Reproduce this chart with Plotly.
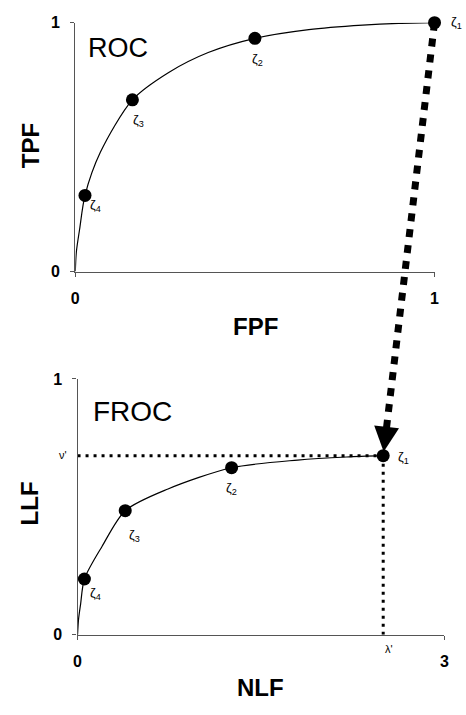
import plotly.graph_objects as go

# ---------------- data ----------------
# ROC operating points (zeta1..zeta4)
roc_fpf = [1.0, 0.50, 0.159, 0.027]
roc_tpf = [1.0, 0.937, 0.69, 0.306]
# ROC curve
roc_curve_fpf = [0, 0.003, 0.012, 0.027, 0.07, 0.159, 0.26, 0.37, 0.50, 0.65, 0.80, 0.90, 1.0]
roc_curve_tpf = [0, 0.08, 0.17, 0.306, 0.48, 0.69, 0.80, 0.88, 0.937, 0.972, 0.99, 0.997, 1.0]

# FROC operating points (zeta1..zeta4)
froc_nlf = [2.5, 1.26, 0.39, 0.056]
froc_llf = [0.70, 0.653, 0.485, 0.218]
# FROC curve
froc_curve_nlf = [0, 0.008, 0.025, 0.056, 0.2, 0.39, 0.74, 1.26, 1.8, 2.2, 2.5]
froc_curve_llf = [0, 0.06, 0.12, 0.218, 0.345, 0.485, 0.57, 0.653, 0.683, 0.695, 0.70]

zeta_labels = ["ζ<sub>1</sub>", "ζ<sub>2</sub>", "ζ<sub>3</sub>", "ζ<sub>4</sub>"]
nu_prime = 0.70
lambda_prime = 2.5

x1_ticks = [0, 1]
y1_ticks = [0, 1]
x2_ticks = [0, 3]
y2_ticks = [0, 1]

# ---------------- layout geometry ----------------
W, H = 466, 715
x1_dom = [72.7 / W, 439 / W]
y1_dom = [1 - 270 / H, 1 - 15 / H]
x2_dom = [75 / W, 449 / W]
y2_dom = [1 - 642 / H, 1 - 380 / H]
x1_rng, y1_rng = [0, 1], [0, 1]
x2_rng, y2_rng = [0, 3], [0, 1]


def to_paper(v, dom, rng):
    return dom[0] + (v - rng[0]) / (rng[1] - rng[0]) * (dom[1] - dom[0])


FONT = "Liberation Sans, Arial, sans-serif"
AXCOL = "#555555"

fig = go.Figure()

# ROC curve + points
fig.add_trace(go.Scatter(x=roc_curve_fpf, y=roc_curve_tpf, mode="lines",
                         line=dict(color="black", width=1.2, shape="spline", smoothing=0.8),
                         xaxis="x", yaxis="y", hoverinfo="skip"))
fig.add_trace(go.Scatter(x=roc_fpf, y=roc_tpf, mode="markers",
                         marker=dict(color="black", size=13), cliponaxis=False,
                         xaxis="x", yaxis="y"))

# FROC dotted guide lines
fig.add_trace(go.Scatter(x=[0, lambda_prime], y=[nu_prime, nu_prime], mode="lines",
                         line=dict(color="black", width=3, dash="3px,5px"),
                         xaxis="x2", yaxis="y2", hoverinfo="skip"))
fig.add_trace(go.Scatter(x=[lambda_prime, lambda_prime], y=[nu_prime, 0], mode="lines",
                         line=dict(color="black", width=3, dash="3px,5px"),
                         xaxis="x2", yaxis="y2", hoverinfo="skip"))
# FROC curve + points
fig.add_trace(go.Scatter(x=froc_curve_nlf, y=froc_curve_llf, mode="lines",
                         line=dict(color="black", width=1.2, shape="spline", smoothing=0.8),
                         xaxis="x2", yaxis="y2", hoverinfo="skip"))
fig.add_trace(go.Scatter(x=froc_nlf, y=froc_llf, mode="markers",
                         marker=dict(color="black", size=13), cliponaxis=False,
                         xaxis="x2", yaxis="y2"))

# Thick dashed arrow shaft from ROC zeta1 to FROC zeta1 (overlay axes spanning the page)
ax_px = to_paper(roc_fpf[0], x1_dom, x1_rng)
ay_px = to_paper(roc_tpf[0], y1_dom, y1_rng)
bx_px = to_paper(froc_nlf[0], x2_dom, x2_rng)
by_px = to_paper(froc_llf[0], y2_dom, y2_rng)
fig.add_trace(go.Scatter(x=[ax_px, bx_px], y=[ay_px, by_px], mode="lines",
                         line=dict(color="black", width=7, dash="8px,8px"),
                         xaxis="x3", yaxis="y3", hoverinfo="skip"))

# arrow direction in pixels (from tip toward tail)
dxp = (ax_px - bx_px) * W
dyp = (ay_px - by_px) * H
L = (dxp ** 2 + dyp ** 2) ** 0.5
head_len = 32

annotations = []
annotations.append(dict(x=froc_nlf[0], y=froc_llf[0], xref="x2", yref="y2",
                        ax=dxp / L * head_len, ay=-dyp / L * head_len,
                        axref="pixel", ayref="pixel", text="", showarrow=True,
                        arrowhead=2, arrowsize=1, arrowwidth=5, arrowcolor="black",
                        standoff=4))

# zeta labels
top_off = [(22, 0), (3, -21), (6, -21), (11, -10)]
bot_off = [(20, -2), (0, -21), (9, -25), (11, -15)]
for i, lab in enumerate(zeta_labels):
    annotations.append(dict(x=roc_fpf[i], y=roc_tpf[i], xref="x", yref="y", text=lab,
                            showarrow=False, xshift=top_off[i][0], yshift=top_off[i][1],
                            font=dict(family=FONT, size=13, color="black")))
    annotations.append(dict(x=froc_nlf[i], y=froc_llf[i], xref="x2", yref="y2", text=lab,
                            showarrow=False, xshift=bot_off[i][0], yshift=bot_off[i][1],
                            font=dict(family=FONT, size=13, color="black")))

# nu' and lambda'
annotations.append(dict(x=0, y=nu_prime, xref="x2", yref="y2", text="ν'", showarrow=False,
                        xshift=-15, yshift=1, font=dict(family=FONT, size=11, color="black")))
annotations.append(dict(x=lambda_prime, y=0, xref="x2", yref="y2", text="λ'", showarrow=False,
                        xshift=6, yshift=-14, font=dict(family=FONT, size=11, color="black")))

# panel names
annotations.append(dict(x=0.12, y=0.90, xref="x", yref="y", text="ROC", showarrow=False,
                        font=dict(family=FONT, size=27, color="black")))
annotations.append(dict(x=0.45, y=0.874, xref="x2", yref="y2", text="FROC", showarrow=False,
                        font=dict(family=FONT, size=28, color="black")))

# axis titles
def title(text, px, py, angle=0):
    return dict(x=px / W, y=1 - py / H, xref="paper", yref="paper", text="<b>%s</b>" % text,
                showarrow=False, textangle=angle, xanchor="center", yanchor="middle",
                font=dict(family=FONT, size=24, color="black"))

annotations += [title("TPF", 27, 141, -90), title("FPF", 256, 326),
                title("LLF", 26, 507, -90), title("NLF", 262, 696)]

axis_common = dict(showgrid=False, zeroline=False, showline=True, linecolor=AXCOL, linewidth=1.2,
                   ticks="outside", ticklen=4, tickcolor=AXCOL, tickwidth=1,
                   tickfont=dict(family=FONT, size=16, color="black", weight="bold"),
                   fixedrange=True)

fig.update_layout(
    width=W, height=H, margin=dict(l=0, r=0, t=0, b=0),
    paper_bgcolor="white", plot_bgcolor="rgba(0,0,0,0)", showlegend=False,
    xaxis=dict(domain=x1_dom, range=x1_rng, anchor="y", tickvals=x1_ticks,
               ticklabelstandoff=8, **axis_common),
    yaxis=dict(domain=y1_dom, range=y1_rng, anchor="x", tickvals=y1_ticks,
               ticklabelstandoff=7, **axis_common),
    xaxis2=dict(domain=x2_dom, range=x2_rng, anchor="y2", tickvals=x2_ticks,
                ticklabelstandoff=8, **axis_common),
    yaxis2=dict(domain=y2_dom, range=y2_rng, anchor="x2", tickvals=y2_ticks,
                ticklabelstandoff=7, **axis_common),
    xaxis3=dict(domain=[0, 1], range=[0, 1], anchor="y3", visible=False, fixedrange=True),
    yaxis3=dict(domain=[0, 1], range=[0, 1], anchor="x3", visible=False, fixedrange=True),
    annotations=annotations,
)

fig.write_html("out.html")
